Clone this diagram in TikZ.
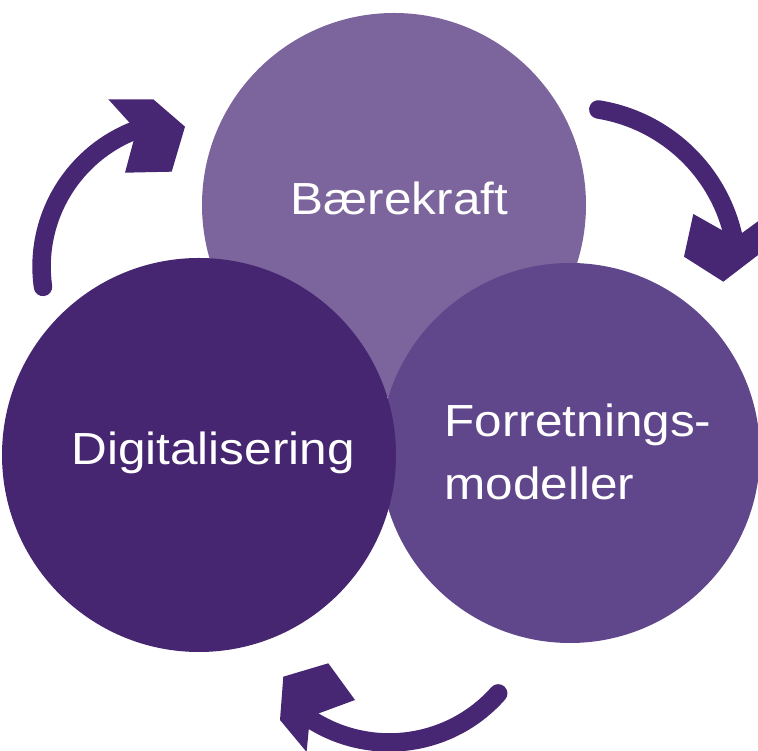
\documentclass[tikz,border=0pt]{standalone}
\usepackage{fontspec}
\setmainfont{Liberation Sans}[FakeStretch=1.10]
\definecolor{topc}{HTML}{7C659D}
\definecolor{rightc}{HTML}{60468A}
\definecolor{leftc}{HTML}{462571}
\definecolor{arrowc}{HTML}{472773}
\begin{document}
\begin{tikzpicture}[x=1pt,y=1pt,
  blob/.style={circle, inner sep=0pt, outer sep=0pt, draw=none},
  lbl/.style={text=white, inner sep=0pt, outer sep=0pt, font=\fontsize{45}{63}\selectfont},
  shaft/.style={draw=arrowc, line width=18.5pt, line cap=round},
  head/.style={fill=arrowc}]
\useasboundingbox (0,0) rectangle (758,751);
% circles
\node[blob, fill=topc, minimum size=384pt] (top) at (394,546) {};
\node[blob, fill=rightc, minimum size=380pt] (right) at (570,298) {};
\node[blob, fill=leftc, minimum size=394pt] (left) at (199,296) {};
% labels
\node[lbl, anchor=base] (t1) at (399.5,536) {Bærekraft};
\node[lbl, anchor=base] (t2) at (213,286) {Digitalisering};
\node[lbl, anchor=base west] (t3) at (444.5,314.3) {Forretnings-};
\node[lbl, anchor=base west] (t4) at (444.5,251) {modeller};
% arrow 1 (top left)
\coordinate (a1tail) at (43,464.1);
\draw[shaft] (a1tail) arc[start angle=188, end angle=108, radius=146];
\fill[head] (108.3,651.7) -- (153.3,651.7) -- (185,624.3) -- (171.7,579.3) -- (125,578.3) -- (136.4,620.7) -- cycle;
% arrow 2 (top right)
\coordinate (a2tail) at (598.3,641.5);
\draw[shaft] (a2tail) arc[start angle=80.9, end angle=8, radius=165];
\fill[head] (693.3,537) -- (684,494.3) -- (723.3,469.3) -- (759,496.7) -- (768,537) -- (735.5,513.2) -- cycle;
% arrow 3 (bottom)
\coordinate (a3tail) at (498.2,57.6);
\draw[shaft] (a3tail) arc[start angle=-41.5, end angle=-125, radius=145.4];
\fill[head] (328.3,87.7) -- (355,51) -- (310,34.4) -- (306.6,-1) -- (280,31) -- (283.3,74.3) -- cycle;
\end{tikzpicture}
\end{document}
